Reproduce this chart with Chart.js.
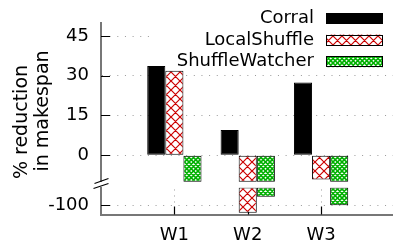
<!DOCTYPE html>
<html>
<head>
<meta charset="utf-8">
<script src="https://cdn.jsdelivr.net/npm/chart.js@4.4.1/dist/chart.umd.min.js"></script>
<style>
  html, body { margin: 0; padding: 0; background: #fff; }
</style>
</head>
<body>
<canvas id="myChart" width="393" height="244"></canvas>
<script>
const categories = ['W1', 'W2', 'W3'];
const seriesNames = ['Corral', 'LocalShuffle', 'ShuffleWatcher'];
const corral = [33.7, 9.5, 27.5];
const localShuffle = [31.9, -102.8, -9.2];
const shuffleWatcher = [-10, -96.8, -100];
const upperTicks = [0, 15, 30, 45];
const lowerTicks = [-100];
const yTitle = ['% reduction', 'in makespan'];

// broken y axis: upper part cut at -10, lower part starts at -93.3
const upperMin = -12.2, upperMax = 50, upperCut = -10;
const lowerMin = -103.5, lowerMax = -93.3;

const FONT = "'DejaVu Sans', sans-serif";
Chart.defaults.font.family = FONT;
Chart.defaults.color = '#000';

function hatch(color, step, lw) {
  const c = document.createElement('canvas');
  c.width = 9; c.height = 9;
  const g = c.getContext('2d');
  g.fillStyle = '#fff';
  g.fillRect(0, 0, 9, 9);
  g.strokeStyle = color;
  g.lineWidth = lw;
  g.beginPath();
  for (let k = -9; k <= 9; k += step) {
    g.moveTo(k, 0); g.lineTo(k + 9, 9);
    g.moveTo(k, 9); g.lineTo(k + 9, 0);
  }
  g.stroke();
  return g.createPattern(c, 'repeat');
}

const fills = ['#000000', hatch('#cc0000', 9, 1.2), hatch('#00b000', 4.5, 1.6)];
const values = [corral, localShuffle, shuffleWatcher];

const datasets = [];
seriesNames.forEach((name, i) => {
  const common = {
    label: name,
    stack: name,
    backgroundColor: fills[i],
    borderColor: '#000',
    borderWidth: 1,
    borderSkipped: false
  };
  datasets.push(Object.assign({}, common, {
    yAxisID: 'y',
    data: values[i].map((v, j) => ({ x: j + 1, y: Math.max(v, upperCut) }))
  }));
  datasets.push(Object.assign({}, common, {
    yAxisID: 'y2',
    data: values[i].map((v, j) => ({ x: j + 1, y: [lowerMax, v] })).filter(p => p.y[1] < lowerMax)
  }));
});

const decor = {
  id: 'decor',
  beforeDatasetsDraw(chart) {
    const { ctx, chartArea: a, scales: { x, y, y2 } } = chart;
    ctx.save();
    // key area is opaque
    ctx.fillStyle = '#fff';
    ctx.fillRect(150, 3, a.right - 150, 50);
    // inner tick marks
    ctx.strokeStyle = '#000';
    ctx.lineWidth = 1.2;
    ctx.beginPath();
    upperTicks.forEach(v => {
      const py = Math.round(y.getPixelForValue(v)) + 0.5;
      ctx.moveTo(a.left, py); ctx.lineTo(a.left + 9, py);
    });
    lowerTicks.forEach(v => {
      const py = Math.round(y2.getPixelForValue(v)) + 0.5;
      ctx.moveTo(a.left, py); ctx.lineTo(a.left + 9, py);
    });
    categories.forEach((c, i) => {
      const px = Math.round(x.getPixelForValue(i + 1)) + 0.5;
      ctx.moveTo(px, a.bottom); ctx.lineTo(px, a.bottom - 8);
    });
    ctx.stroke();
    // x grid only in the lower part
    ctx.strokeStyle = '#999';
    ctx.lineWidth = 1;
    ctx.setLineDash([1, 5]);
    ctx.beginPath();
    categories.forEach((c, i) => {
      const px = Math.round(x.getPixelForValue(i + 1)) + 0.5;
      ctx.moveTo(px, y2.top + 2); ctx.lineTo(px, a.bottom - 8);
    });
    ctx.stroke();
    ctx.restore();
  },
  afterDatasetsDraw(chart) {
    const { ctx } = chart;
    ctx.save();
    ctx.font = '18px ' + FONT;
    ctx.textAlign = 'right';
    ctx.textBaseline = 'middle';
    seriesNames.forEach((name, i) => {
      const cy = 18.5 + i * 21.6;
      ctx.fillStyle = '#000';
      ctx.fillText(name, 314, cy);
      ctx.fillStyle = fills[i];
      ctx.fillRect(326, cy - 5.5, 57, 11);
      ctx.strokeStyle = '#000';
      ctx.lineWidth = 1;
      ctx.strokeRect(326.5, Math.round(cy - 5.5) + 0.5, 56, 10);
    });
    ctx.restore();
  },
  afterDraw(chart) {
    const { ctx, chartArea: a, scales: { y } } = chart;
    ctx.save();
    // axis break
    const L = a.left, yc = y.bottom - 4;
    ctx.fillStyle = '#fff';
    ctx.fillRect(L - 2, yc - 1.5, 4, 5);
    ctx.strokeStyle = '#000';
    ctx.lineWidth = 1.2;
    ctx.beginPath();
    ctx.moveTo(L - 6.5, yc); ctx.lineTo(L + 7.5, yc - 5);
    ctx.moveTo(L - 7.5, yc + 5); ctx.lineTo(L + 7.5, yc);
    ctx.stroke();
    // y title
    ctx.fillStyle = '#000';
    ctx.font = '19px ' + FONT;
    ctx.textAlign = 'center';
    ctx.textBaseline = 'alphabetic';
    [[27, 122], [48, 111]].forEach(([tx, ty], i) => {
      ctx.save();
      ctx.translate(tx, ty);
      ctx.rotate(-Math.PI / 2);
      ctx.fillText(yTitle[i], 0, 0);
      ctx.restore();
    });
    ctx.restore();
  }
};

const tickFont = { size: 18, family: FONT };

new Chart(document.getElementById('myChart'), {
  type: 'bar',
  data: { datasets },
  options: {
    responsive: false,
    animation: false,
    layout: { padding: { top: 21, right: 0, left: 0, bottom: 0 } },
    categoryPercentage: 0.74,
    barPercentage: 1,
    plugins: { legend: { display: false }, tooltip: { enabled: false } },
    scales: {
      x: {
        type: 'linear',
        offset: false,
        min: 0,
        max: 3.98,
        afterBuildTicks: s => { s.ticks = categories.map((c, i) => ({ value: i + 1 })); },
        ticks: { callback: v => categories[Math.round(v) - 1] || '', font: tickFont, color: '#000', padding: 10, maxRotation: 0, autoSkip: false },
        grid: { display: false, drawTicks: false, offset: false },
        border: { display: true, color: '#777', width: 2 },
        afterFit: s => { s.height = 29.5; }
      },
      y: {
        type: 'linear',
        position: 'left',
        stack: 'v',
        weight: 2,
        stackWeight: upperMax - upperMin,
        stacked: false,
        min: upperMin,
        max: upperMax,
        afterBuildTicks: s => { s.ticks = upperTicks.map(v => ({ value: v })); },
        ticks: { font: tickFont, color: '#000', padding: 12 },
        grid: { drawTicks: false, color: '#999', lineWidth: 1 },
        border: { color: '#777', width: 2, dash: [1, 6.65] },
        afterFit: s => { s.width = 101; }
      },
      y2: {
        type: 'linear',
        position: 'left',
        stack: 'v',
        weight: 1,
        stackWeight: lowerMax - lowerMin,
        stacked: false,
        min: lowerMin,
        max: lowerMax,
        afterBuildTicks: s => { s.ticks = lowerTicks.map(v => ({ value: v })); },
        ticks: { font: tickFont, color: '#000', padding: 12 },
        grid: { drawTicks: false, color: '#999', lineWidth: 1 },
        border: { color: '#777', width: 2, dash: [1, 6.65] },
        afterFit: s => { s.width = 101; }
      }
    }
  },
  plugins: [decor]
});
</script>
</body>
</html>
